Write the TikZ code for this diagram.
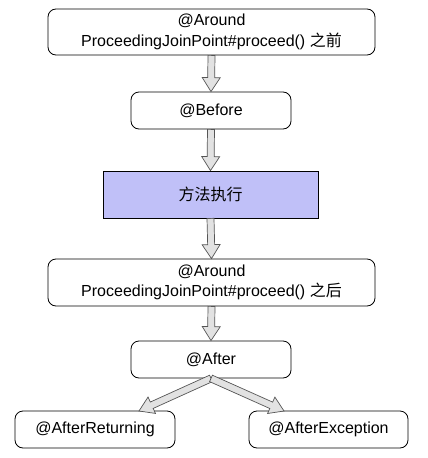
\documentclass[tikz,border=0pt]{standalone}
\usepackage{fontspec}
\setmainfont{Liberation Sans}
\newfontfamily\cjk{Noto Sans CJK SC}
\usetikzlibrary{calc}
\definecolor{lav}{HTML}{C0C0F8}
\definecolor{arrfill}{HTML}{E2E2E2}
\definecolor{arrline}{HTML}{555555}
\tikzset{
  rbox/.style={draw=black, line width=0.8pt, rounded corners=8pt, fill=white, align=center, inner sep=0pt, font=\fontsize{16}{20.5}\selectfont},
  sbox/.style={draw=black, line width=0.8pt, fill=lav, align=center, inner sep=0pt, font=\fontsize{16}{20.5}\selectfont},
  blockarrow/.style={draw=arrline, fill=arrfill, line width=0.7pt, line join=miter}
}
\newcommand\blockarr[2]{%
  \coordinate (ba) at ($(#2)!14pt!(#1)$);
  \draw[blockarrow] ($(#1)!3.5pt!90:(#2)$) -- ($(ba)!3.5pt!90:(#2)$) -- ($(ba)!9pt!90:(#2)$) -- (#2)
    -- ($(ba)!9pt!-90:(#2)$) -- ($(ba)!3.5pt!-90:(#2)$) -- ($(#1)!3.5pt!-90:(#2)$) -- cycle;
}
\begin{document}
\begin{tikzpicture}[x=1pt,y=-1pt]
\useasboundingbox (0,0) rectangle (428,458);
\node[rbox, minimum width=327pt, minimum height=46pt] (b1) at (211.5,32) {@Around\\ProceedingJoinPoint\#proceed() {\cjk 之前}};
\node[rbox, minimum width=160pt, minimum height=37pt] (b2) at (211,110.5) {@Before};
\node[sbox, minimum width=215pt, minimum height=47pt] (b3) at (210.5,194.5) {\cjk 方法执行};
\node[rbox, minimum width=327pt, minimum height=47pt] (b4) at (211.5,282.5) {@Around\\ProceedingJoinPoint\#proceed() {\cjk 之后}};
\node[rbox, minimum width=160pt, minimum height=37pt] (b5) at (211,359.5) {@After};
\node[rbox, minimum width=160pt, minimum height=37pt] (b6) at (95,429.5) {@AfterReturning};
\node[rbox, minimum width=159pt, minimum height=37pt] (b7) at (328.5,429.5) {@AfterException};
\coordinate (t6) at (139,411);
\coordinate (t7) at (284,411);
\blockarr{b1.south}{b2.north}
\blockarr{b2.south}{b3.north}
\blockarr{b3.south}{b4.north}
\blockarr{b4.south}{b5.north}
\blockarr{b5.south}{t6}
\blockarr{b5.south}{t7}
\end{tikzpicture}
\end{document}
